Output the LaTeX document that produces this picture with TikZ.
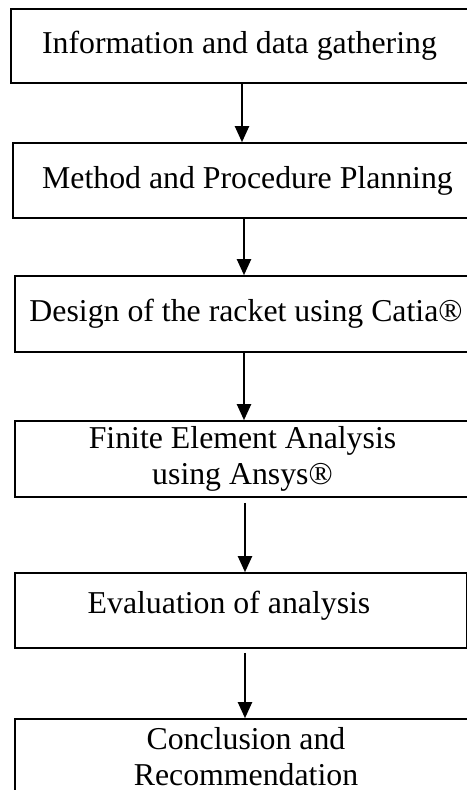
\documentclass[tikz,border=0pt]{standalone}
\usepackage{fontspec}
\setmainfont{Liberation Serif}
\usetikzlibrary{arrows.meta}
\tikzset{
  stepbox/.style = {rectangle, draw=black, line width=1.6pt, inner sep=0pt,
    align=center, font=\fontsize{31.8}{36}\selectfont},% one stage of the work
  flow/.style = {-{Triangle[width=14pt,length=16pt]}, line width=2pt},% stage to stage
}
\begin{document}
\begin{tikzpicture}[x=1pt,y=-1pt]
  \useasboundingbox (0,0) rectangle (466,790);

  \node[stepbox, minimum width=457pt, minimum height=74pt] (b1) at (239.5,46) {Information and data gathering};
  \node[stepbox, minimum width=469pt, minimum height=75pt] (b2) at (247.5,180.5) {Method and Procedure Planning};
  \node[stepbox, minimum width=462pt, minimum height=76pt] (b3) at (246,314) {Design of the racket using Catia®};
  \node[stepbox, minimum width=455pt, minimum height=76pt] (b4) at (242.5,459) {Finite Element Analysis\\using Ansys®};
  \node[stepbox, minimum width=452pt, minimum height=75pt, text depth=17pt] (b5) at (241,610.5) {Evaluation of analysis\rule{24pt}{0pt}};
  \node[stepbox, minimum width=462pt, minimum height=76pt] (b6) at (246,757) {Conclusion and\\Recommendation};

  %   arrows between stages
  \draw[flow] (b1.south -| 242,0) -- (b2.north -| 242,0);
  \draw[flow] (b2.south -| 244,0) -- (b3.north -| 244,0);
  \draw[flow] (b3.south -| 244,0) -- (b4.north -| 244,0);
  \draw[flow, shorten <=5pt] (b4.south -| 245,0) -- (b5.north -| 245,0);
  \draw[flow, shorten <=4pt] (b5.south -| 245,0) -- (b6.north -| 245,0);
\end{tikzpicture}
\end{document}
